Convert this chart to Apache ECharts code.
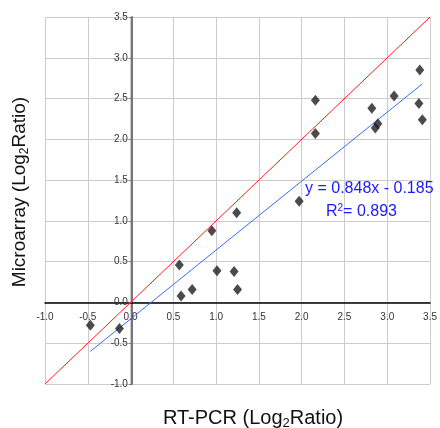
<!DOCTYPE html>
<html>
<head>
<meta charset="utf-8">
<script src="https://cdn.jsdelivr.net/npm/echarts@6/dist/echarts.min.js"></script>
<style>
html,body{margin:0;padding:0;background:#fff;}
#chart{width:440px;height:428px;}
</style>
</head>
<body>
<div id="chart"></div>
<script>
// Data
var rtpcr      = [-0.47, -0.13, 0.57, 0.59, 0.72, 0.95, 1.01, 1.21, 1.25, 1.24, 1.97, 2.16, 2.16, 2.82, 2.86, 2.89, 3.08, 3.38, 3.37, 3.41];
var microarray = [-0.28, -0.32, 0.46, 0.08, 0.16, 0.88, 0.39, 0.38, 0.16, 1.10, 1.24, 2.07, 2.48, 2.38, 2.14, 2.19, 2.53, 2.85, 2.44, 2.24];
var fitX = [-0.47, 3.41];
var fitY = [-0.60, 2.68];
var identityX = [-1.0, 3.5];
var identityY = [-1.0, 3.5];
var equationText = 'y = 0.848x - 0.185';
var r2Value = '0.893';
var xTitle = ['RT-PCR (Log', '2', 'Ratio)'];
var yTitle = ['Microarray (Log', '2', 'Ratio)'];
var axisMin = -1.0, axisMax = 3.5, axisStep = 0.5;

var FONT = '"Liberation Sans", Arial, sans-serif';
var GL = 45, GT = 17, GW = 391, GH = 367;

function pairs(xs, ys) { return xs.map(function (x, i) { return [x, ys[i]]; }); }

// offsets that place each axis at the other axis's zero
var yAxisOffset = -GW * (0 - axisMin) / (axisMax - axisMin);
var xAxisOffset = -GH * (0 - axisMin) / (axisMax - axisMin);

var chart = echarts.init(document.getElementById('chart'), null, {renderer: 'canvas'});
chart.setOption({
  animation: false,
  backgroundColor: '#ffffff',
  grid: {left: GL, top: GT, width: GW, height: GH, containLabel: false},
  xAxis: {
    type: 'value', min: axisMin, max: axisMax, interval: axisStep,
    offset: xAxisOffset,
    axisLine: {show: true, onZero: false, lineStyle: {color: '#000', width: 1.5}},
    axisTick: {show: false},
    axisLabel: {color: '#333', fontSize: 10, fontFamily: FONT, margin: 10,
      formatter: function (v) { return v.toFixed(1); }},
    splitLine: {show: true, lineStyle: {color: '#cccccc', width: 1}}
  },
  yAxis: {
    type: 'value', min: axisMin, max: axisMax, interval: axisStep,
    offset: yAxisOffset,
    axisLine: {show: true, onZero: false, lineStyle: {color: '#777', width: 2}},
    axisTick: {show: true, length: 3, lineStyle: {color: '#777', width: 1}},
    axisLabel: {color: '#333', fontSize: 10, fontFamily: FONT, margin: 4,
      formatter: function (v) { return v.toFixed(1); }},
    splitLine: {show: true, lineStyle: {color: '#cccccc', width: 1}}
  },
  series: [
    {
      type: 'line', data: pairs(identityX, identityY), showSymbol: false, symbol: 'none',
      lineStyle: {color: '#ff1a1a', width: 1}, z: 2
    },
    {
      type: 'line', data: pairs(fitX, fitY), showSymbol: false, symbol: 'none',
      lineStyle: {color: '#3a6cf4', width: 1}, z: 2
    },
    {
      type: 'scatter', data: pairs(rtpcr, microarray), symbol: 'diamond', symbolSize: [9, 11],
      itemStyle: {color: '#1e1e1e'}, z: 3
    }
  ],
  graphic: [
    {
      type: 'text', x: 305, y: 189, z: 10,
      style: {text: equationText, fill: '#1a1aff', font: '16px ' + FONT, textVerticalAlign: 'middle'}
    },
    {
      type: 'text', x: 326, y: 212, z: 10,
      style: {
        text: '{a|R}{s|2}{a|= ' + r2Value + '}',
        textVerticalAlign: 'middle',
        rich: {
          a: {fontSize: 16, fontFamily: FONT, fill: '#1a1aff', color: '#1a1aff'},
          s: {fontSize: 10, fontFamily: FONT, fill: '#1a1aff', color: '#1a1aff', padding: [0, 0, 8, 0]}
        }
      }
    },
    {
      type: 'text', x: 253, y: 418, z: 10,
      style: {
        text: '{a|' + xTitle[0] + '}{s|' + xTitle[1] + '}{a|' + xTitle[2] + '}',
        textAlign: 'center', textVerticalAlign: 'middle',
        rich: {
          a: {fontSize: 20, fontFamily: FONT, fill: '#111', color: '#111'},
          s: {fontSize: 13, fontFamily: FONT, fill: '#111', color: '#111', padding: [10, 0, 0, 0]}
        }
      }
    },
    {
      type: 'text', x: 20, y: 192, rotation: Math.PI / 2, z: 10,
      style: {
        text: '{a|' + yTitle[0] + '}{s|' + yTitle[1] + '}{a|' + yTitle[2] + '}',
        textAlign: 'center', textVerticalAlign: 'middle',
        rich: {
          a: {fontSize: 19, fontFamily: FONT, fill: '#111', color: '#111'},
          s: {fontSize: 12, fontFamily: FONT, fill: '#111', color: '#111', padding: [10, 0, 0, 0]}
        }
      }
    }
  ]
});
</script>
</body>
</html>
